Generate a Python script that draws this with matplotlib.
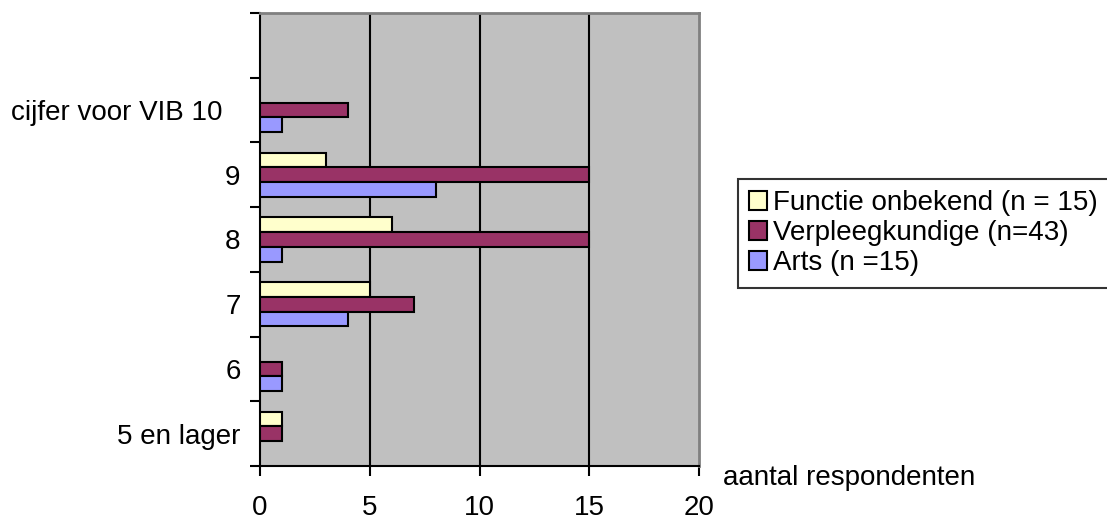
import numpy as np
import matplotlib.pyplot as plt
from matplotlib.transforms import ScaledTranslation

plt.rcParams["font.family"] = ["Liberation Sans", "DejaVu Sans"]

# categories from bottom to top (top one is empty)
categories = ["5 en lager", "6", "7", "8", "9", "cijfer voor VIB 10", ""]
series_names = ["Functie onbekend (n = 15)", "Verpleegkundige (n=43)", "Arts (n =15)"]
functie = [1, 0, 5, 6, 3, 0, 0]
verpleeg = [1, 1, 7, 15, 15, 4, 0]
arts = [0, 1, 4, 1, 8, 1, 0]
colors = ["#FFFFCC", "#993366", "#9999FF"]
x_ticks = [0, 5, 10, 15, 20]

fig = plt.figure(figsize=(11.07, 5.21), dpi=100)
ax = fig.add_axes([0.2349, 0.1056, 0.3966, 0.8695])
ax.set_facecolor("#C0C0C0")

y = np.arange(len(categories))
h = 0.227
handles = []
for k, (vals, col, name) in enumerate(zip([functie, verpleeg, arts], colors, series_names)):
    offset = (1 - k) * h
    vals = np.array(vals)
    mask = vals > 0
    bars = ax.barh(y[mask] + offset, vals[mask], height=h, color=col,
                   edgecolor="black", linewidth=1.5, label=name, zorder=3)
    handles.append(bars)

ax.set_xlim(0, 20)
ax.set_ylim(-0.5, len(categories) - 0.5)
ax.set_xticks(x_ticks)
ax.set_xticklabels([str(t) for t in x_ticks], fontsize=20)
for gx in x_ticks[1:-1]:
    ax.axvline(gx, color="black", linewidth=1.5, zorder=1)

# y ticks between categories, labels at category centres
ax.set_yticks(np.arange(-0.5, len(categories), 1.0))
ax.set_yticklabels([])
ax.set_yticks(y, minor=True)
ax.set_yticklabels(categories, minor=True, fontsize=20)
ax.tick_params(axis="y", which="minor", length=0, pad=14)
ax.tick_params(axis="y", which="major", length=7, width=1.5, direction="out")
ax.tick_params(axis="x", length=7, width=1.5, direction="out", pad=14)

for lbl in ax.get_yticklabels(minor=True):
    if lbl.get_text().startswith("cijfer"):
        lbl.set_transform(lbl.get_transform() + ScaledTranslation(-18 / 100, 0, fig.dpi_scale_trans))

for s in ["left", "bottom"]:
    ax.spines[s].set_color("black")
    ax.spines[s].set_linewidth(1.5)
for s in ["top", "right"]:
    ax.spines[s].set_color("#808080")
    ax.spines[s].set_linewidth(2)

fig.text(0.653, 1 - 478 / 521, "aantal respondenten", fontsize=20, va="center", ha="left")

leg = fig.legend(handles=handles, loc="upper left", bbox_to_anchor=(0.6667, 1 - 179 / 521),
                 borderaxespad=0, fontsize=20, frameon=True, fancybox=False,
                 edgecolor="black", handlelength=0.65, handleheight=0.65,
                 handletextpad=0.2, labelspacing=0.15, borderpad=0.4)
leg.get_frame().set_linewidth(1.5)

fig.savefig("out.png", dpi=100)
